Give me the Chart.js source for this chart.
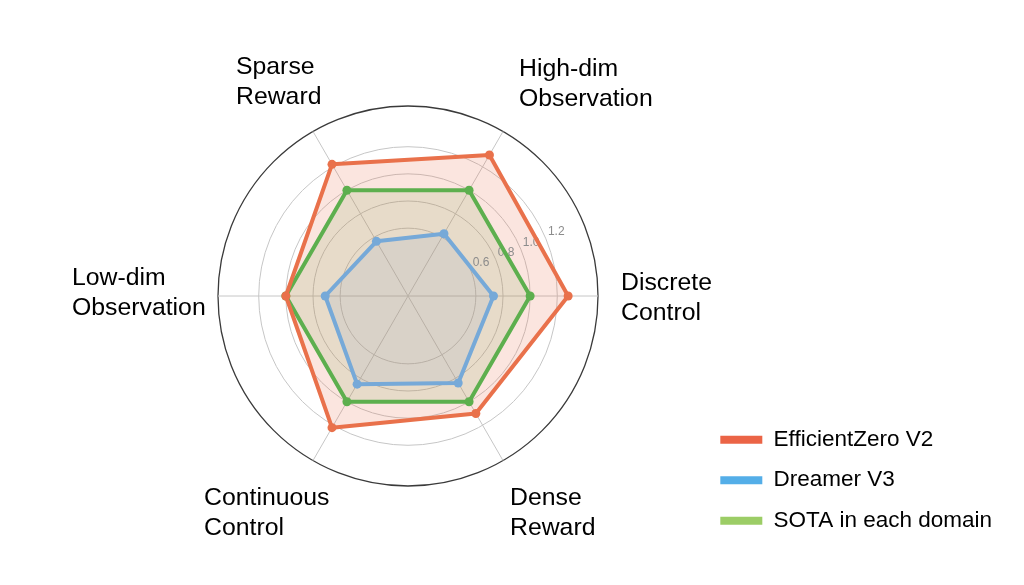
<!DOCTYPE html>
<html>
<head>
<meta charset="utf-8">
<title>EfficientZero V2 radar</title>
<script src="https://cdn.jsdelivr.net/npm/chart.js@4.4.1/dist/chart.umd.min.js"></script>
<style>
  html, body { margin: 0; padding: 0; background: #fff; }
  #wrap { width: 1024px; height: 585px; position: relative; }
</style>
</head>
<body>
<div id="wrap"><canvas id="radar"></canvas></div>
<script>
// axes go clockwise from the right-hand side
const domains = ['Discrete Control', 'Dense Reward', 'Continuous Control', 'Low-dim Observation', 'Sparse Reward', 'High-dim Observation'];
const efficientZeroV2 = [1.28, 1.10, 1.22, 1.00, 1.22, 1.30];
const dreamerV3 = [0.73, 0.84, 0.85, 0.71, 0.565, 0.63];
const sotaPerDomain = [1.0, 1.0, 1.0, 1.0, 1.0, 1.0];
const rTicks = [0.6, 0.8, 1.0, 1.2];
const rMin = 0.1;
const rMax = 1.5;

const fontFamily = '"Liberation Sans", Arial, Helvetica, sans-serif';
const lineColours = ['#E9714B', '#76A9D8', '#5DAF4E'];
const fillColours = ['rgba(233,113,75,0.18)', 'rgba(118,169,216,0.15)', 'rgba(93,175,78,0.15)'];
const legendColours = ['#EB6446', '#54AEE8', '#9CCD66'];
const plotRadius = 190;
// where each two-line domain name sits relative to the end of its axis
const labelNudge = [[23, -6], [7, 44], [-109, 44], [-146, -11], [-77, -57], [16, -55]];

Chart.defaults.font.family = fontFamily;

const radarText = {
  id: 'radarText',
  beforeDatasetsDraw(chart) {
    // radial tick values, matplotlib style at 22.5 degrees
    const scale = chart.scales.r;
    const ctx = chart.ctx;
    const a = 22.5 * Math.PI / 180;
    ctx.save();
    ctx.font = '12px ' + fontFamily;
    ctx.fillStyle = '#8c8c8c';
    ctx.textAlign = 'left';
    ctx.textBaseline = 'bottom';
    rTicks.forEach((v) => {
      const d = scale.getDistanceFromCenterForValue(v);
      ctx.fillText(v.toFixed(1), scale.xCenter + d * Math.cos(a) + 2, scale.yCenter - d * Math.sin(a) - 1);
    });
    ctx.restore();
  },
  afterDraw(chart) {
    const scale = chart.scales.r;
    const ctx = chart.ctx;
    ctx.save();
    ctx.font = '24.8px ' + fontFamily;
    ctx.fillStyle = '#000';
    ctx.textAlign = 'left';
    ctx.textBaseline = 'alphabetic';
    domains.forEach((name, i) => {
      const end = scale.getPointPosition(i, scale.drawingArea);
      const [dx, dy] = labelNudge[i];
      name.split(' ').forEach((line, k) => ctx.fillText(line, end.x + dx, end.y + dy + k * 30));
    });
    ctx.restore();
  }
};

const series = [
  { label: 'EfficientZero V2', data: efficientZeroV2 },
  { label: 'Dreamer V3', data: dreamerV3 },
  { label: 'SOTA in each domain', data: sotaPerDomain }
];

new Chart(document.getElementById('radar'), {
  type: 'radar',
  data: {
    labels: domains,
    datasets: series.map((s, i) => ({
      label: s.label,
      data: s.data,
      borderColor: lineColours[i],
      backgroundColor: fillColours[i],
      pointBackgroundColor: lineColours[i],
      fill: true
    }))
  },
  options: {
    responsive: true,
    maintainAspectRatio: false,
    animation: false,
    layout: { padding: { left: 115, right: 22, top: 43, bottom: 35 } },
    elements: {
      line: { borderWidth: 4, tension: 0, borderJoinStyle: 'round' },
      point: { radius: 4.5, borderWidth: 0, hoverRadius: 4.5 }
    },
    scales: {
      r: {
        min: rMin,
        max: rMax,
        startAngle: 90,
        ticks: { display: false },
        pointLabels: { display: false },
        angleLines: { color: '#c6c6c6', lineWidth: 1 },
        grid: {
          circular: true,
          color: (c) => (c.tick && c.tick.value === rMax ? '#3a3a3a' : '#c6c6c6'),
          lineWidth: (c) => (c.tick && c.tick.value === rMax ? 1.3 : 1)
        },
        afterBuildTicks: (scale) => {
          scale.ticks = [rMin, ...rTicks, rMax].map((value) => ({ value }));
        },
        afterFit: (scale) => {
          scale.drawingArea = plotRadius;
        }
      }
    },
    plugins: {
      filler: { drawTime: 'beforeDatasetsDraw' },
      tooltip: { enabled: false },
      legend: {
        position: 'right',
        align: 'end',
        labels: {
          boxWidth: 42,
          boxHeight: 8,
          padding: 18,
          color: '#000',
          font: { size: 22.5 },
          generateLabels: (chart) => chart.data.datasets.map((ds, i) => ({
            text: ds.label,
            fillStyle: legendColours[i],
            strokeStyle: legendColours[i],
            lineWidth: 0,
            hidden: false,
            datasetIndex: i
          }))
        }
      }
    }
  },
  plugins: [radarText]
});
</script>
</body>
</html>
